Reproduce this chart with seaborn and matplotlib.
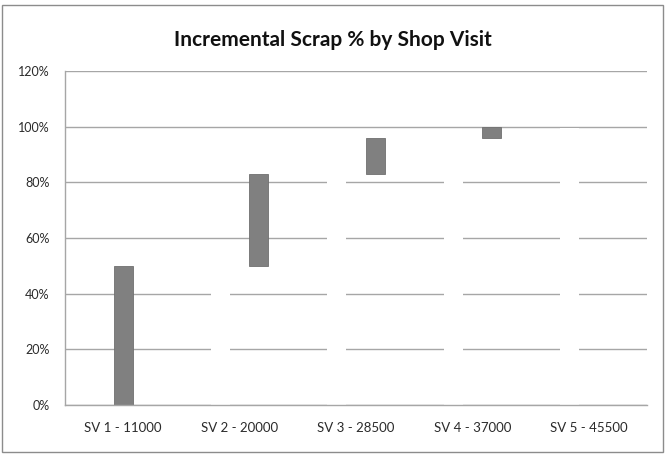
import matplotlib
matplotlib.use("Agg")
import matplotlib.pyplot as plt
import matplotlib.ticker as mticker
from matplotlib.patches import Rectangle
import seaborn as sns
import pandas as pd

categories = ["SV 1 - 11000", "SV 2 - 20000", "SV 3 - 28500", "SV 4 - 37000", "SV 5 - 45500"]
base = [0.0, 0.50, 0.83, 0.96, 1.00]      # invisible (white) running total
first = [0.50, 0.0, 0.0, 0.0, 0.0]        # first shop visit scrap
increment = [0.0, 0.33, 0.13, 0.04, 0.0]  # incremental scrap

series_names = ["Base", "First", "Increment"]
rows = []
for i, c in enumerate(categories):
    rows.append({"cat": c, "series": "Base", "val": base[i]})
    rows.append({"cat": c, "series": "First", "val": first[i]})
    rows.append({"cat": c, "series": "Increment", "val": increment[i]})
df = pd.DataFrame(rows)

sns.set_theme(style="white")
plt.rcParams["font.family"] = ["Lato", "DejaVu Sans"]

fig = plt.figure(figsize=(6.67, 4.54), dpi=100)
ax = fig.add_axes([65/667, 1-405/454, (647-65)/667, (405-71)/454])

palette = {"Base": "white", "First": "#808080", "Increment": "#808080"}
sns.barplot(data=df, x="cat", y="val", hue="series", hue_order=series_names,
            order=categories, palette=palette, width=0.49, dodge=True,
            saturation=1, legend=False, ax=ax, edgecolor="none", linewidth=0)

# float the increment bars on top of the running base
inc_container = ax.containers[2]
for patch, b in zip(inc_container.patches, base):
    patch.set_y(b)
for cont in ax.containers[1:]:
    for p in cont.patches:
        if p.get_height() > 0:
            p.set_edgecolor("#707070")
            p.set_linewidth(0.6)
        else:
            p.set_visible(False)
        p.set_zorder(3)
# white "invisible" bases hide the gridlines behind them (keep the top line visible)
for p in ax.containers[0].patches:
    p.set_zorder(2)
    if p.get_height() > 0:
        p.set_height(p.get_height() - 0.006)

ax.set_ylim(0, 1.2)
ax.set_xlim(-0.5, len(categories) - 0.5)
ax.set_yticks([0, 0.2, 0.4, 0.6, 0.8, 1.0, 1.2])
ax.yaxis.set_major_formatter(mticker.FuncFormatter(lambda v, _: f"{v*100:.0f}%"))
ax.grid(axis="y", color="#a6a6a6", linewidth=1.0)
ax.grid(axis="x", visible=False)
ax.set_axisbelow(True)
for s in ["top", "right"]:
    ax.spines[s].set_visible(False)
for s in ["left", "bottom"]:
    ax.spines[s].set_color("#a6a6a6")
    ax.spines[s].set_linewidth(1.0)
    ax.spines[s].set_zorder(4)
ax.tick_params(axis="y", length=0, pad=11, labelsize=9, labelcolor="#2b2b2b")
ax.tick_params(axis="x", length=0, pad=12, labelsize=9.5, labelcolor="#2b2b2b")
ax.set_xlabel("")
ax.set_ylabel("")

fig.text(333/667, 1-40/454, "Incremental Scrap % by Shop Visit", ha="center", va="center",
         fontsize=15, fontweight="bold", color="#111111")

fig.patches.append(Rectangle((2/667, 2/454), 661/667, 447/454, transform=fig.transFigure,
                             fill=False, edgecolor="#8c8c8c", linewidth=1.0))

fig.savefig("out.png", dpi=100, facecolor="white")
